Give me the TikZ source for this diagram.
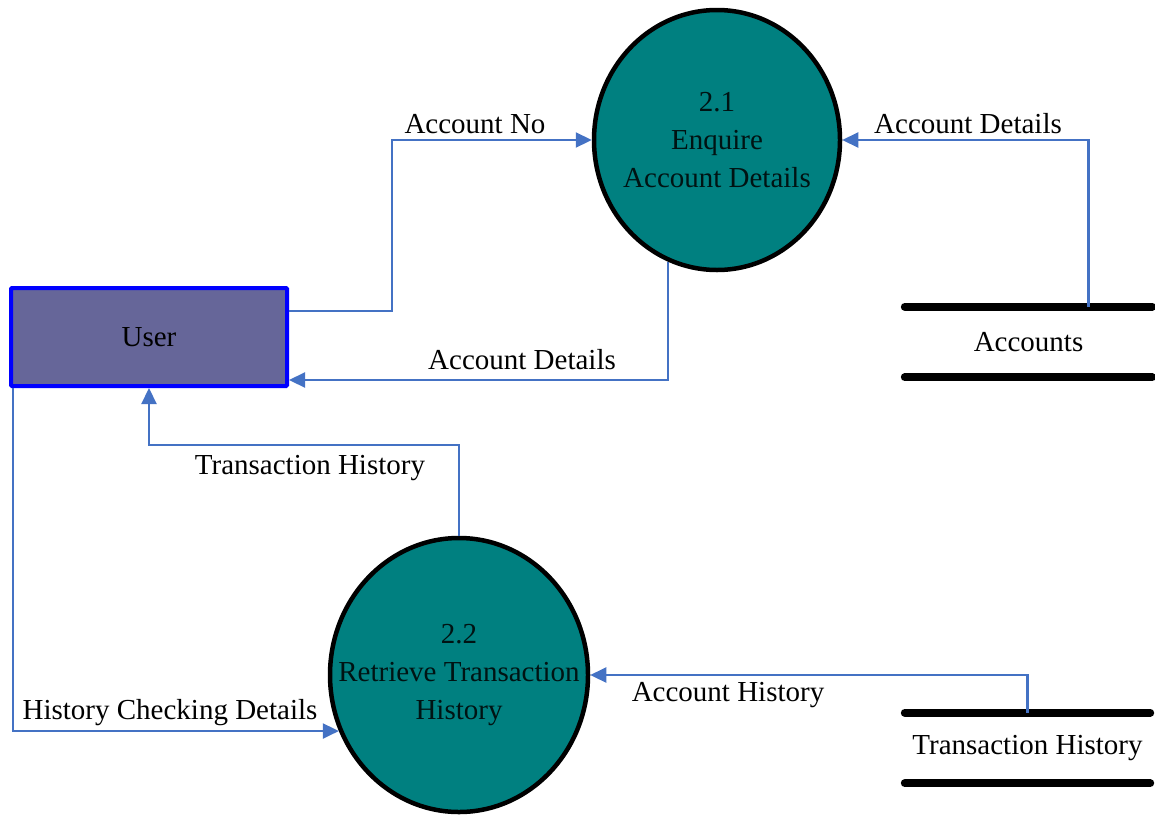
\documentclass[tikz,border=0pt]{standalone}
\usepackage{fontspec}
\setmainfont{Liberation Serif}
\usetikzlibrary{shapes.geometric,arrows.meta}
\definecolor{flowblue}{HTML}{4472C4}
\definecolor{procteal}{HTML}{008080}
\definecolor{entityfill}{HTML}{666699}
\begin{document}
\begin{tikzpicture}[x=1pt,y=-1pt,
  every node/.style={font=\fontsize{29}{38}\selectfont},
  process/.style={ellipse,draw=black,line width=4.5pt,fill=procteal,inner sep=0pt},
  proctext/.style={align=center,text=black!85!procteal,inner sep=0pt},
  entity/.style={rectangle,draw=blue,line width=4pt,fill=entityfill,minimum width=276pt,minimum height=98pt,rounded corners=1pt},
  store/.style={minimum width=247pt,minimum height=70pt,inner sep=0pt},
  storeline/.style={line width=8pt,line cap=round},
  flow/.style={draw=flowblue,line width=2.2pt,-{Triangle[length=16pt,width=15pt]},color=flowblue},
  lbl/.style={text=black,inner sep=0pt}]
\useasboundingbox (0,0) rectangle (1155,814);

% external entity
\node[entity] (user) at (149,337) {User};

% processes: the outline and the caption are separate nodes,
% so that the wide caption may run past the circle's edge
\node[process,minimum width=246pt,minimum height=260pt] (p21) at (717,140) {};
\node[proctext] (t21) at (p21.center) {2.1\\Enquire\\Account Details};
\node[process,minimum width=258pt,minimum height=274pt] (p22) at (459,675) {};
\node[proctext] (t22) at (p22.center) {2.2\\Retrieve Transaction\\History};

% data stores
\node[store] (acc) at (1028.5,342) {Accounts};
\draw[storeline] (acc.north west) -- (acc.north east);
\draw[storeline] (acc.south west) -- (acc.south east);
\node[store,minimum width=245pt] (th) at (1027.5,748) {Transaction History};
\draw[storeline] (th.north west) -- (th.north east);
\draw[storeline] (th.south west) -- (th.south east);

% data flows
\draw[flow] ([yshift=26pt]user.east) -- ++(103,0) |- (p21.west);
\draw[flow] (p21.248) |- ([yshift=-43pt]user.east);
\draw[flow] ([xshift=60pt]acc.north) |- (p21.east);
\draw[flow] (p22.north) -- ++(0,-91) -| (user.south);
\draw[flow] ([xshift=4pt]user.south west) |- (p22.205);
\draw[flow] (th.north) |- (p22.east);

% flow labels
\node[lbl] (l1) at (475,124) {Account No};
\node[lbl] (l2) at (522,360) {Account Details};
\node[lbl] (l3) at (968,124) {Account Details};
\node[lbl] (l4) at (310,468) {Transaction History};
\node[lbl] (l5) at (170,713) {History Checking Details};
\node[lbl] (l6) at (728,695) {Account History};
\end{tikzpicture}
\end{document}
